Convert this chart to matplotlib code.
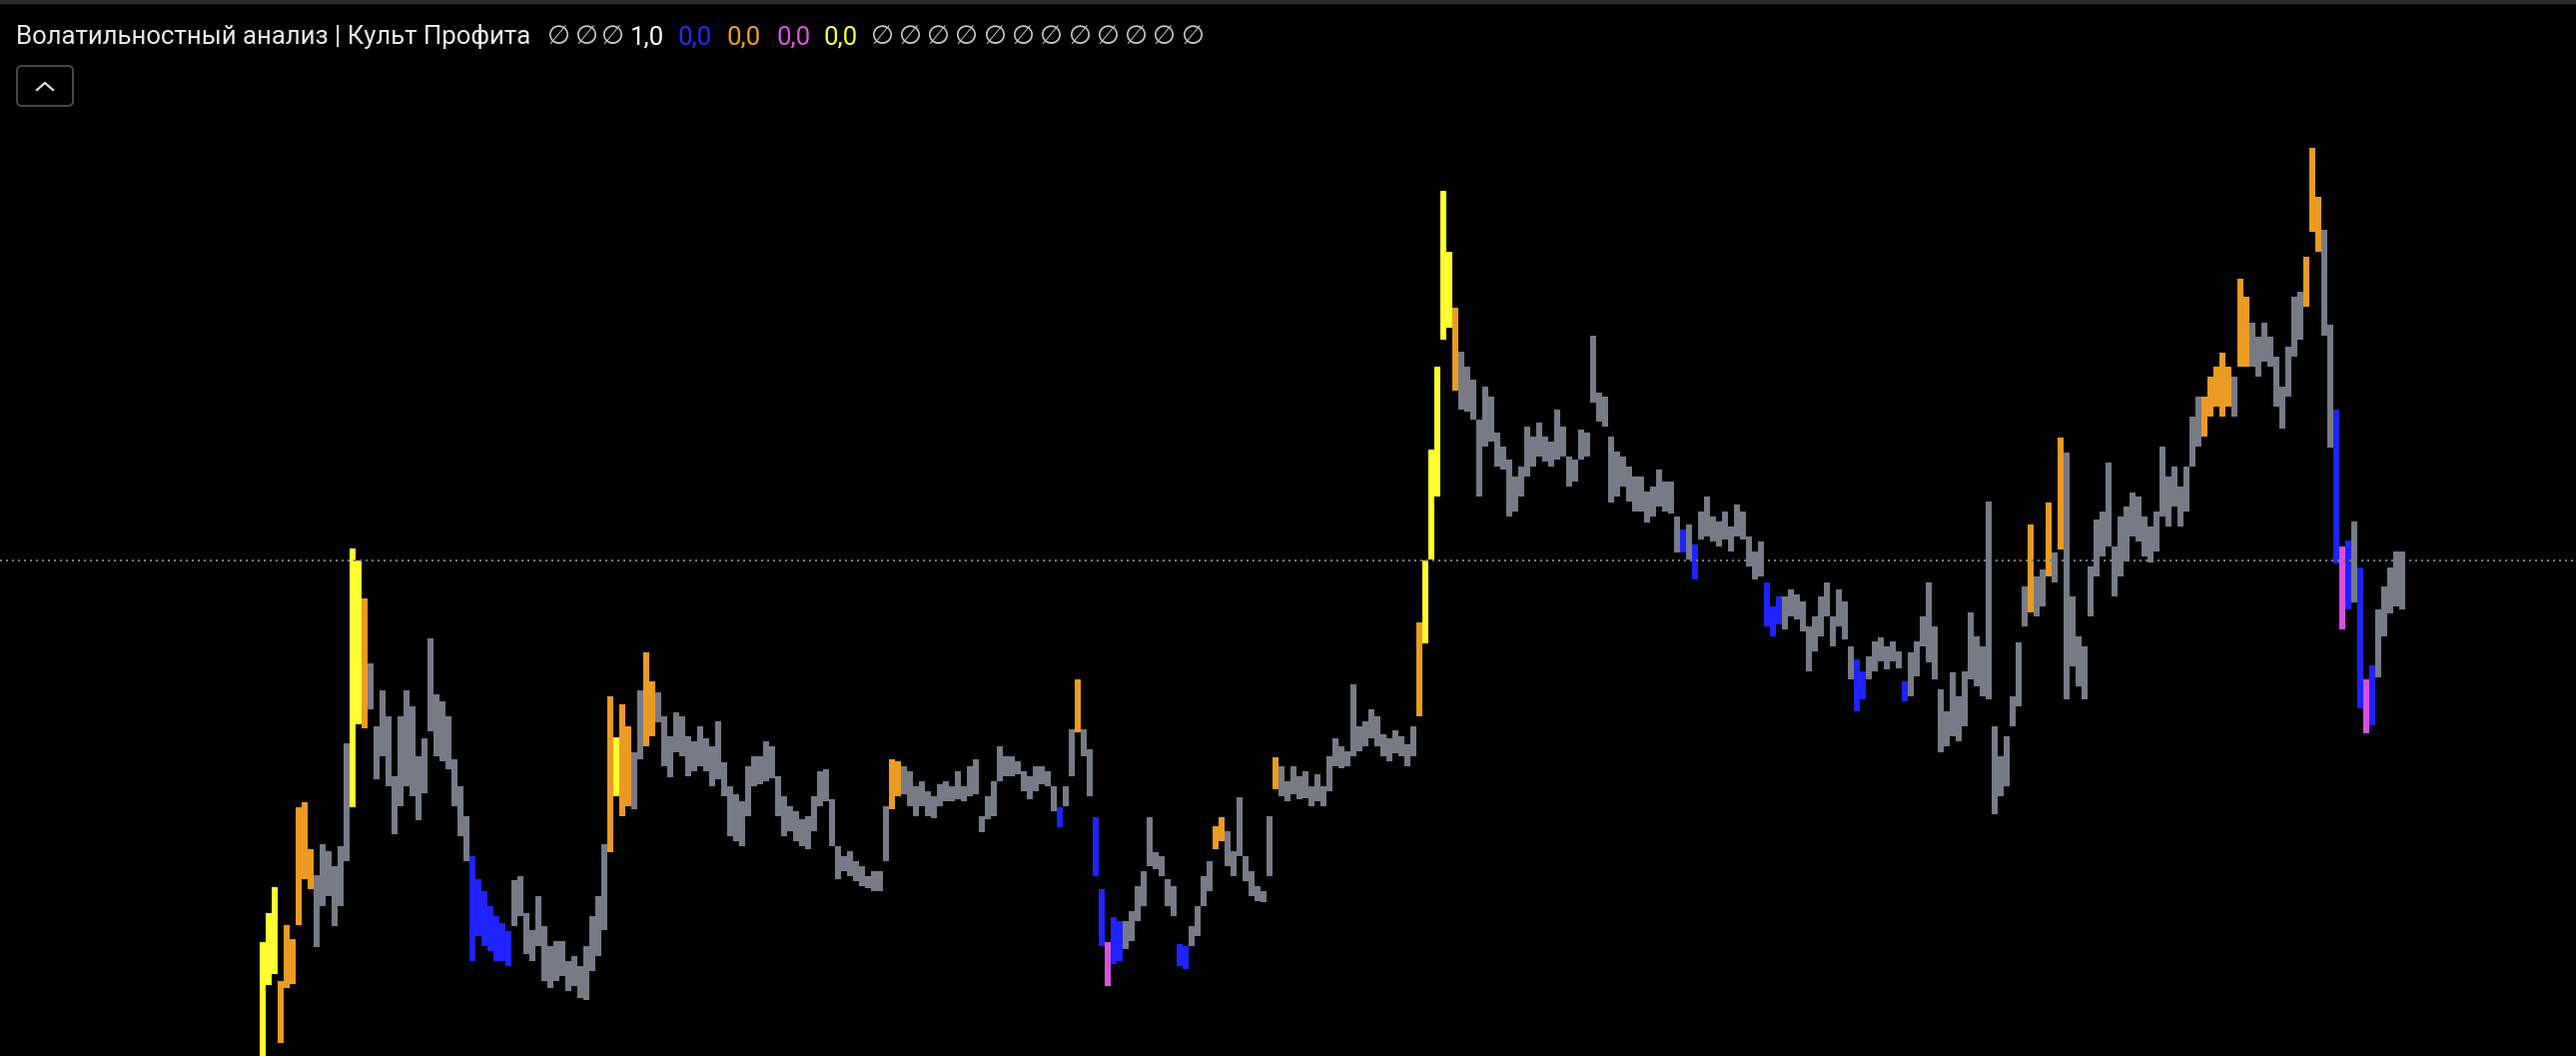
import matplotlib
matplotlib.use('Agg')
import matplotlib.pyplot as plt
from matplotlib.patches import FancyBboxPatch, Rectangle
from matplotlib.lines import Line2D
from matplotlib.transforms import IdentityTransform
import numpy as np

# bar highs / lows (price units), one value per bar
hi = [114, 143, 169, 75, 131, 117, 249, 254, 207, 181, 212, 205, 190, 210, 313, 508, 496, 458, 393, 330,
      366, 340, 280, 340, 366, 350, 300, 318, 418, 362, 355, 340, 297, 270, 240, 200, 177, 165, 150, 140,
      133, 125, 176, 180, 143, 126, 160, 130, 110, 115, 115, 95, 100, 90, 110, 140, 160, 212, 360, 319,
      352, 330, 304, 366, 404, 375, 364, 340, 320, 344, 340, 320, 315, 330, 318, 310, 335, 294, 270, 262,
      255, 290, 300, 300, 315, 310, 280, 260, 250, 245, 237, 240, 260, 285, 287, 257, 210, 200, 205, 195,
      190, 180, 185, 185, 250, 297, 295, 290, 285, 270, 275, 265, 260, 272, 275, 270, 285, 270, 290, 297,
      240, 260, 275, 310, 300, 300, 295, 285, 280, 290, 290, 285, 270, 249, 270, 327, 377, 327, 307, 239,
      167, 114, 139, 135, 135, 145, 170, 185, 239, 204, 200, 177, 170, 112, 110, 130, 150, 180, 195, 230,
      239, 225, 205, 259, 200, 185, 170, 165, 240, 299, 290, 275, 290, 280, 285, 270, 282, 270, 300, 318,
      310, 305, 372, 330, 335, 347, 340, 322, 318, 326, 320, 312, 330, 434, 496, 607, 690, 866, 805, 749,
      705, 690, 677, 637, 670, 660, 624, 610, 597, 580, 590, 630, 620, 634, 620, 615, 647, 630, 600, 597,
      627, 624, 721, 664, 660, 620, 605, 600, 590, 580, 580, 565, 570, 587, 575, 575, 540, 527, 532, 512,
      545, 560, 540, 535, 545, 530, 552, 545, 520, 505, 515, 474, 450, 460, 460, 467, 462, 455, 430, 440,
      460, 474, 440, 467, 455, 410, 397, 385, 400, 415, 419, 410, 415, 405, 375, 404, 415, 440, 474, 430,
      367, 345, 384, 360, 385, 444, 420, 410, 555, 330, 300, 320, 360, 414, 470, 532, 480, 487, 554, 504,
      619, 604, 460, 420, 410, 490, 537, 545, 594, 510, 540, 550, 564, 560, 540, 530, 545, 610, 580, 590,
      570, 590, 640, 660, 660, 680, 690, 704, 690, 680, 778, 760, 734, 720, 734, 720, 700, 670, 710, 760,
      765, 800, 909, 860, 827, 732, 647, 510, 516, 535, 489, 377, 391, 447, 470, 489, 505, 505]
lo = [-20, 71, 82, 13, 68, 72, 131, 177, 167, 109, 150, 160, 130, 150, 195, 249, 332, 328, 347, 277,
      300, 270, 222, 250, 270, 260, 236, 263, 325, 300, 295, 287, 250, 220, 195, 95, 120, 110, 105, 95,
      95, 90, 130, 140, 102, 95, 110, 75, 68, 75, 80, 65, 70, 58, 56, 85, 100, 126, 204, 260,
      240, 250, 247, 297, 310, 320, 334, 290, 279, 304, 300, 280, 285, 290, 285, 270, 277, 260, 220, 215,
      210, 240, 270, 272, 275, 278, 240, 220, 225, 215, 210, 207, 225, 250, 255, 210, 177, 185, 180, 175,
      170, 168, 165, 165, 195, 247, 260, 262, 250, 240, 250, 240, 238, 250, 255, 255, 257, 255, 260, 262,
      224, 237, 240, 275, 280, 280, 282, 265, 257, 265, 272, 270, 245, 229, 250, 280, 324, 300, 260, 180,
      110, 70, 92, 95, 107, 115, 135, 150, 190, 187, 180, 150, 140, 90, 87, 110, 120, 150, 165, 207,
      215, 190, 180, 200, 175, 160, 155, 154, 180, 267, 260, 255, 262, 257, 258, 250, 255, 250, 265, 290,
      288, 290, 300, 305, 310, 318, 310, 300, 295, 303, 300, 290, 300, 340, 413, 497, 560, 717, 729, 666,
      647, 645, 637, 560, 610, 615, 590, 587, 540, 545, 560, 580, 590, 600, 595, 590, 597, 600, 570, 575,
      597, 600, 654, 635, 630, 554, 560, 570, 555, 545, 545, 534, 540, 550, 545, 543, 504, 504, 497, 477,
      517, 520, 515, 510, 517, 505, 520, 517, 490, 477, 480, 430, 420, 432, 427, 440, 437, 425, 385, 405,
      420, 440, 410, 430, 417, 377, 345, 357, 377, 385, 395, 387, 395, 388, 355, 360, 380, 410, 394, 377,
      304, 310, 320, 315, 330, 377, 370, 360, 357, 242, 260, 270, 330, 350, 430, 444, 440, 450, 480, 474,
      507, 357, 390, 370, 357, 440, 480, 500, 510, 460, 480, 495, 520, 515, 500, 494, 505, 540, 530, 550,
      530, 545, 590, 610, 620, 640, 650, 640, 650, 640, 690, 690, 690, 680, 695, 690, 650, 628, 660, 700,
      717, 750, 825, 805, 721, 609, 493, 427, 447, 454, 348, 323, 331, 379, 420, 443, 450, 447]
# volatility state, as runs of (state, number of bars): g normal, o / y high, b / m low
state_runs = [("y", 3), ("o", 6), ("g", 6), ("y", 2), ("o", 1), ("g", 17), ("b", 7), ("g", 16),
              ("o", 1), ("y", 1), ("o", 2), ("g", 2), ("o", 2), ("g", 39), ("o", 2), ("g", 26),
              ("b", 1), ("g", 2), ("o", 1), ("g", 2), ("b", 2), ("m", 1), ("b", 2), ("g", 9),
              ("b", 2), ("g", 4), ("o", 2), ("g", 8), ("o", 1), ("g", 23), ("o", 1), ("y", 5),
              ("o", 1), ("g", 37), ("b", 1), ("g", 1), ("b", 1), ("g", 11), ("b", 3), ("g", 12),
              ("b", 2), ("g", 6), ("b", 1), ("g", 20), ("o", 1), ("g", 2), ("o", 1), ("g", 1),
              ("o", 1), ("g", 23), ("o", 5), ("g", 1), ("o", 2), ("g", 9), ("o", 3), ("g", 2),
              ("b", 1), ("m", 1), ("b", 1), ("g", 1), ("b", 1), ("m", 1), ("b", 1), ("g", 5)]
last_price = 496

title = "Волатильностный анализ | Культ Профита"
values = ["∅", "∅", "∅", "1,0", "0,0", "0,0", "0,0", "0,0"] + ["∅"] * 12
value_colors = ["#c8c8c8"] * 3 + ["#ffffff", "#2a2aff", "#f0a028", "#dc55e4", "#ffff30"] + ["#c8c8c8"] * 12

palette = {"g": "#787b86", "o": "#eb9b23", "b": "#1e23ff", "y": "#ffff32", "m": "#d750e1"}

kinds = []
for k, n in state_runs:
    kinds += [k] * n

W, H = 2579, 1057
fig = plt.figure(figsize=(W / 100, H / 100), dpi=100, facecolor="black")
ax = fig.add_axes([0, 0, 1, 1])
ax.set_facecolor("black")

hi = np.array(hi)
lo = np.array(lo)
x = np.arange(len(hi))
ax.bar(x, hi - lo, bottom=lo, width=0.88, color=[palette[k] for k in kinds], linewidth=0)
ax.axhline(last_price, color="#787b86", lw=1.44, ls=(0, (1, 2)))

# 6 px per bar, first bar at 263 px
ax.set_xlim(-263 / 6, -263 / 6 + W / 6)
ax.set_ylim(0, H)
ax.axis("off")

# top border of the pane
fig.patches.append(Rectangle((0, 1 - 3 / H), 1, 3 / H, transform=fig.transFigure,
                             color="#2b2b2b", zorder=5))

# legend line
fams = ["Roboto", "DejaVu Sans"]
fig.text(16 / W, 1 - 44 / H, title, color="#ececec", fontsize=18.5, family=fams, va="baseline")
centers = [559, 587, 614, 648, 696, 745, 795, 842] + [883 + 28.3 * k for k in range(12)]
for cx, txt, c in zip(centers, values, value_colors):
    size = 19 if txt == "∅" else 18.5
    fig.text(cx / W, 1 - 44 / H, txt, color=c, fontsize=size, family=fams, va="baseline", ha="center")

# collapse button
ident = IdentityTransform()
btn = FancyBboxPatch((17, H - 106), 56, 40, boxstyle="round,pad=0,rounding_size=5",
                     transform=ident, facecolor="black", edgecolor="#4a4a4a", lw=1.4)
fig.add_artist(btn)
fig.add_artist(Line2D([37, 45, 53], [H - 90, H - 83, H - 90], transform=ident,
                      color="#dddddd", lw=1.6))

fig.savefig("out.png", dpi=100, facecolor="black")
